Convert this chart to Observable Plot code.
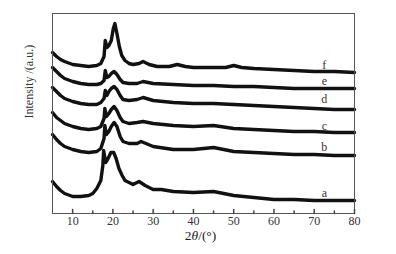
<!DOCTYPE html>
<html><head><meta charset="utf-8">
<script src="https://cdn.jsdelivr.net/npm/d3@7"></script>
<script src="https://cdn.jsdelivr.net/npm/@observablehq/plot@0.6"></script>
<style>
html,body{margin:0;padding:0;background:#fff;}
#chart{width:396px;height:254px;}
</style>
</head><body><div id="chart"></div>
<script>
// XRD patterns: 2θ (deg) and intensity (a.u., offset-stacked as in the figure)
const thetaF = [5,6,7,8,10,12,14,16,17,17.8,18.1,18.5,19,19.6,20.1,20.5,21,21.6,22.2,23,24,25,26.5,27.5,29,31,34,36,38,40,45,48,50,52,55,60,65,70,75,80];
const intF   = [161,157,154,152,149,148,147,148,150,157,173,166,168,173,185,190,180,167,158,153,150,149,150,152,149,147,147,149,147,146,146,146,148,146,145,144,143,142,142,141];

const thetaE = [5,6,7,8,10,12,14,16,17,17.8,18.1,18.5,19,19.6,20.3,21,21.8,22.5,24,26,27.5,30,35,40,45,50,55,60,65,70,75,80];
const intE   = [146,142,138,135,132,130,129,129,130,133,143,136,137,140,142,139,134,131,130,130,132,130,129,128,128,127,127,126,125,125,125,125];

const thetaD = [5,6,7,8,10,12,14,16,17,17.8,18.1,18.5,19,19.6,20.3,21,21.8,22.5,24,26,27.5,30,35,40,45,50,55,60,65,70,75,80];
const intD   = [126,122,118,115,112,110,109,109,111,115,123,118,122,125,127,124,118,114,113,114,116,113,111,110,110,109,108,107,106,105,104,104];

const thetaC = [5,6,7,8,10,12,14,16,17,17.8,18,18.4,19,19.6,20.3,21,21.8,22.5,24,26,27.5,30,35,40,45,50,55,60,65,70,75,80];
const intC   = [101,96,93,90,87,85,84,85,87,95,105,97,100,104,107,103,96,92,90,91,92,90,88,87,88,85,84,83,82,82,81,81];

const thetaB = [5,6,7,8,10,12,14,16,17,17.8,18,18.4,19,19.6,20.3,21,21.8,22.5,24,26,27,30,35,40,45,50,55,60,65,70,75,80];
const intB   = [79,74,70,67,64,62,61,62,65,75,88,79,82,87,91,87,77,72,70,70,72,67,64,64,66,62,61,60,59,59,58,58];

const thetaA = [5,6,7,8,10,12,14,15,16,17,17.5,17.7,18.2,18.8,19.5,20.2,20.8,21.5,22.3,23,24,25,26.5,28,30,32,35,40,45,50,55,60,65,70,75,80];
const intA   = [32,27,23,20,17,17,18,20,25,33,48,63,51,55,61,61,55,45,38,33,31,29,32,28,24,24,22,21,22,18,16,14,14,13,13,13];

const seriesNames = ["a","b","c","d","e","f"];
const labelTheta = 72.5;
const labelInt = [20, 66, 87, 114, 132, 148];

const majorTicks = [10,20,30,40,50,60,70,80];
const minorTicks = [15,25,35,45,55,65,75];

const series = [
  ["a", thetaA, intA], ["b", thetaB, intB], ["c", thetaC, intC],
  ["d", thetaD, intD], ["e", thetaE, intE], ["f", thetaF, intF]
];
const rows = series.flatMap(([name, xs, ys]) => xs.map((x, i) => ({name, x, y: ys[i]})));
const labels = seriesNames.map((n, i) => ({name: n, x: labelTheta, y: labelInt[i]}));

const tickShape = {draw(context, l) { context.moveTo(0, 0); context.lineTo(0, -l); }};

const plot = Plot.plot({
  width: 396,
  height: 254,
  marginLeft: 52,
  marginRight: 42,
  marginTop: 13,
  marginBottom: 41,
  style: {fontFamily: "'Liberation Serif', 'DejaVu Serif', serif", fontSize: "12px", color: "#222", background: "#fff"},
  x: {domain: [5, 80]},
  y: {domain: [0, 200]},
  marks: [
    Plot.line(rows, {x: "x", y: "y", z: "name", stroke: "#111", strokeWidth: 3.4, strokeLinejoin: "round"}),
    Plot.frame({stroke: "#555", strokeWidth: 1}),
    Plot.vectorX(majorTicks, {x: d => d, frameAnchor: "bottom", length: 4, rotate: 0, anchor: "start", shape: tickShape, stroke: "#444"}),
    Plot.vectorX(minorTicks, {x: d => d, frameAnchor: "bottom", length: 2.5, rotate: 0, anchor: "start", shape: tickShape, stroke: "#444"}),
    Plot.axisX(majorTicks, {anchor: "bottom", tickSize: 0, tickPadding: 3, label: null, fontSize: 12, fill: "#333"}),
    Plot.axisY([], {label: null, tickSize: 0}),
    Plot.text(labels, {x: "x", y: "y", text: "name", fontSize: 12, fill: "#333", textAnchor: "middle", lineAnchor: "middle"}),
    Plot.text(["Intensity /(a.u.)"], {frameAnchor: "left", rotate: -90, dx: -23, dy: 5, fontSize: 12, fill: "#333"}),
    Plot.text(["2θ/(°)"], {frameAnchor: "bottom", dy: 26, dx: -3, fontSize: 13.5, fill: "#222"})
  ]
});
document.getElementById("chart").appendChild(plot);
d3.select(plot).selectAll("text").filter(function() { return this.textContent === "2θ/(°)"; })
  .each(function() {
    const t = d3.select(this);
    t.text(null);
    t.append("tspan").text("2");
    t.append("tspan").attr("font-style", "italic").text("θ");
    t.append("tspan").text("/(°)");
  });
</script>
</body></html>
